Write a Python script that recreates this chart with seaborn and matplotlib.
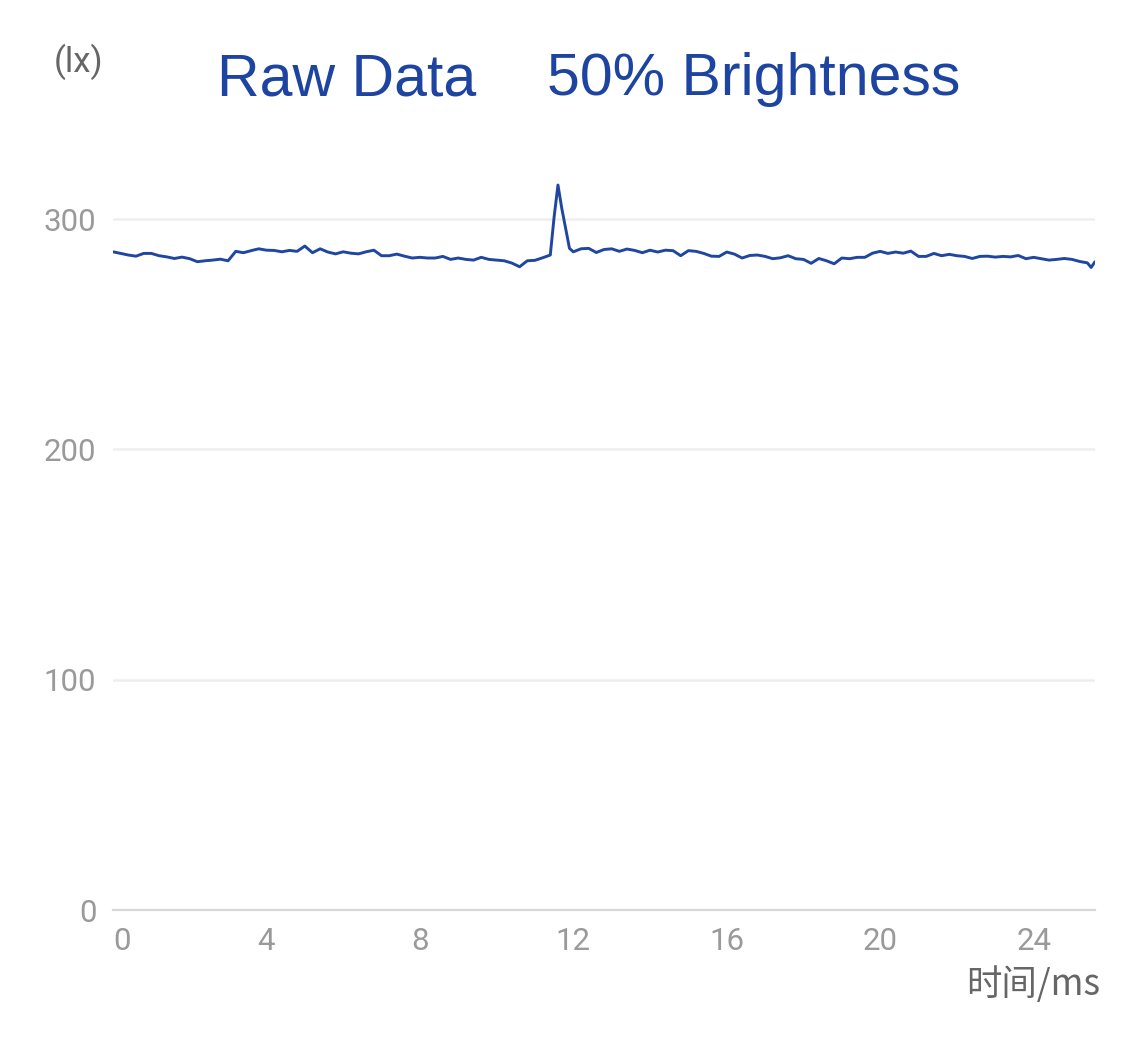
import matplotlib
matplotlib.use("Agg")
import matplotlib.pyplot as plt
import seaborn as sns
import pandas as pd

# ---- data ----
time_ms = [0.0, 0.2, 0.4, 0.6, 0.8, 1.0, 1.2, 1.4, 1.6, 1.8,
           2.0, 2.2, 2.4, 2.6, 2.8, 3.0, 3.2, 3.4, 3.6, 3.8,
           4.0, 4.2, 4.4, 4.6, 4.8, 5.0, 5.2, 5.4, 5.6, 5.8,
           6.0, 6.2, 6.4, 6.6, 6.8, 7.0, 7.2, 7.4, 7.6, 7.8,
           8.0, 8.2, 8.4, 8.6, 8.8, 9.0, 9.2, 9.4, 9.6, 9.8,
           10.0, 10.2, 10.4, 10.6, 10.8, 11.0, 11.2, 11.4, 11.5, 11.6,
           11.7, 11.8, 11.9, 12.0, 12.2, 12.4, 12.6, 12.8, 13.0, 13.2,
           13.4, 13.6, 13.8, 14.0, 14.2, 14.4, 14.6, 14.8, 15.0, 15.2,
           15.4, 15.6, 15.8, 16.0, 16.2, 16.4, 16.6, 16.8, 17.0, 17.2,
           17.4, 17.6, 17.8, 18.0, 18.2, 18.4, 18.6, 18.8, 19.0, 19.2,
           19.4, 19.6, 19.8, 20.0, 20.2, 20.4, 20.6, 20.8, 21.0, 21.2,
           21.4, 21.6, 21.8, 22.0, 22.2, 22.4, 22.6, 22.8, 23.0, 23.2,
           23.4, 23.6, 23.8, 24.0, 24.2, 24.4, 24.6, 24.8, 25.0, 25.2,
           25.4, 25.5, 25.6]
lux = [285.8, 285.1, 284.4, 283.9, 285.1, 285.1, 284.1, 283.6, 282.9, 283.5,
       282.8, 281.5, 281.9, 282.2, 282.6, 281.9, 286.0, 285.4, 286.3, 287.1,
       286.5, 286.4, 285.8, 286.4, 286.0, 288.3, 285.4, 287.1, 285.7, 284.9,
       285.8, 285.2, 284.9, 285.8, 286.5, 284.1, 284.1, 284.8, 283.9, 283.1,
       283.4, 283.1, 283.1, 283.8, 282.5, 283.1, 282.5, 282.2, 283.4, 282.5,
       282.2, 281.9, 280.9, 279.3, 281.9, 282.1, 283.2, 284.4, 301.0, 314.8,
       304.6, 295.9, 287.3, 285.8, 287.1, 287.3, 285.5, 286.8, 287.1, 286.0,
       287.0, 286.4, 285.4, 286.5, 285.7, 286.5, 286.3, 284.1, 286.3, 286.0,
       285.1, 283.9, 283.8, 285.7, 284.8, 283.1, 284.2, 284.4, 283.8, 282.8,
       283.2, 284.1, 282.8, 282.5, 280.8, 282.9, 281.9, 280.6, 283.1, 282.8,
       283.4, 283.4, 285.2, 286.0, 285.1, 285.7, 285.2, 286.1, 283.8, 283.8,
       285.1, 284.1, 284.7, 284.1, 283.8, 282.9, 283.8, 283.9, 283.5, 283.8,
       283.6, 284.2, 282.8, 283.4, 282.8, 282.2, 282.5, 282.9, 282.5, 281.6,
       281.0, 279.0, 281.5]
x_ticks = [0, 4, 8, 12, 16, 20, 24]
y_ticks = [0, 100, 200, 300]
title_left = "Raw Data"
title_right = "50% Brightness"
y_unit = "(lx)"
x_label = "时间/ms"

df = pd.DataFrame({"time": time_ms, "lux": lux})

sns.set_theme(style="white")
plt.rcParams['font.family'] = ['Roboto', 'Noto Sans CJK SC', 'DejaVu Sans']

W, H = 1125, 1040
fig = plt.figure(figsize=(W / 100, H / 100), dpi=100)
ymax = 340
ax_left, ax_right = 113 / W, 1095 / W
ax_bottom = (H - 910) / H
ax_top = (H - (910 - ymax * 2.303)) / H
ax = fig.add_axes([ax_left, ax_bottom, ax_right - ax_left, ax_top - ax_bottom])

sns.lineplot(data=df, x="time", y="lux", ax=ax, color="#1f46a0",
             linewidth=2.1, estimator=None, sort=False)

ax.set_xlim(0, 25.6)
ax.set_ylim(0, ymax)
ax.set_xticks(x_ticks)
ax.set_yticks(y_ticks)
ax.set_xticklabels([str(t) for t in x_ticks])
ax.set_yticklabels([str(t) for t in y_ticks])
ax.set_xlabel("")
ax.set_ylabel("")

for s in ["top", "right", "left"]:
    ax.spines[s].set_visible(False)
ax.spines["bottom"].set_color("#d6d6d6")
ax.spines["bottom"].set_linewidth(1.6)

ax.yaxis.grid(True, color="#eeeeee", linewidth=1.8)
ax.set_axisbelow(True)
ax.tick_params(axis="both", length=0, labelsize=22.5, labelcolor="#9a9a9a")
ax.tick_params(axis="y", pad=12)
ax.tick_params(axis="x", pad=12)
ax.get_xticklabels()[0].set_horizontalalignment("left")

# titles
fig.text(217 / W, (H - 95) / H, title_left, fontsize=42.5, color="#1c44a0",
         family=["Liberation Sans"], ha="left", va="baseline")
fig.text(547 / W, (H - 95) / H, title_right, fontsize=42.5, color="#1c44a0",
         family=["Liberation Sans"], ha="left", va="baseline")
fig.text(79 / W, (H - 72) / H, y_unit, fontsize=25, color="#666666",
         ha="center", va="baseline")
fig.text(1100 / W, (H - 995) / H, x_label, fontsize=25.5, color="#666666",
         family=["Noto Sans CJK SC", "DejaVu Sans"], ha="right", va="baseline")

fig.savefig("out.png", dpi=100, facecolor="white")
